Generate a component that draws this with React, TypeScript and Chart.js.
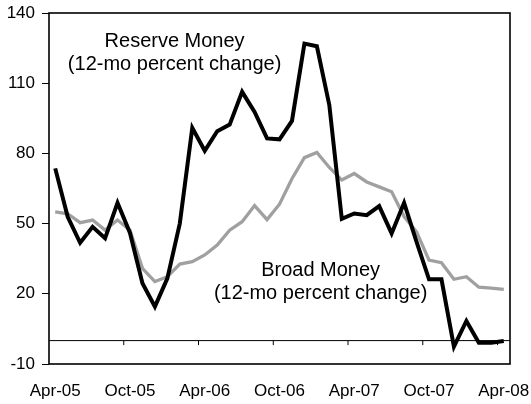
import React, { useEffect, useRef } from "react";
import { Chart, registerables } from "chart.js";

Chart.register(...registerables);

const months = [
  "Apr-05", "May-05", "Jun-05", "Jul-05", "Aug-05", "Sep-05", "Oct-05", "Nov-05", "Dec-05",
  "Jan-06", "Feb-06", "Mar-06", "Apr-06", "May-06", "Jun-06", "Jul-06", "Aug-06", "Sep-06",
  "Oct-06", "Nov-06", "Dec-06", "Jan-07", "Feb-07", "Mar-07", "Apr-07", "May-07", "Jun-07",
  "Jul-07", "Aug-07", "Sep-07", "Oct-07", "Nov-07", "Dec-07", "Jan-08", "Feb-08", "Mar-08",
  "Apr-08",
];

const reserveMoney = [
  73.6, 52.9, 41.8, 48.6, 43.7, 58.9, 46.0, 24.5, 14.5, 26.6, 50.1, 90.9, 81.1, 89.5, 92.3,
  106.3, 97.7, 86.4, 86.0, 93.9, 126.9, 125.8, 100.6, 52.0, 54.3, 53.6, 57.5, 45.8, 58.9,
  42.2, 26.2, 26.2, -2.6, 8.4, -0.9, -0.9, -0.2,
];

const broadMoney = [
  55.0, 54.2, 50.4, 51.5, 47.2, 51.5, 47.2, 30.9, 25.2, 27.3, 32.7, 33.7, 36.6, 40.8, 47.2,
  50.8, 57.7, 51.7, 58.3, 69.2, 78.2, 80.4, 74.0, 68.6, 71.4, 67.8, 65.7, 63.6, 53.0, 46.5,
  34.4, 33.3, 26.2, 27.3, 22.8, 22.4, 21.9,
];

const labelEvery = 6;
const yMin = -10;
const yMax = 140;
const yStep = 30;

const annotations = [
  { lines: ["Reserve Money", "(12-mo percent change)"], x: 9.58, y: 125.4 },
  { lines: ["Broad Money", "(12-mo percent change)"], x: 21.3, y: 27.6 },
];

const FONT = "'Liberation Sans', Arial, sans-serif";

const overlayPlugin = {
  id: "overlay",
  beforeDatasetsDraw(chart: any) {
    const { ctx, chartArea, scales } = chart;
    const xs = scales.x;
    const ys = scales.y;
    const y0 = ys.getPixelForValue(0);
    ctx.save();
    ctx.strokeStyle = "#000";
    ctx.lineWidth = 1;
    ctx.beginPath();
    ctx.moveTo(chartArea.left, y0);
    ctx.lineTo(chartArea.right, y0);
    for (let k = labelEvery; k < months.length; k += labelEvery) {
      const x = (xs.getPixelForValue(k - 1) + xs.getPixelForValue(k)) / 2;
      ctx.moveTo(x, y0);
      ctx.lineTo(x, y0 + 4.5);
    }
    ctx.stroke();
    ctx.restore();
  },
  afterDatasetsDraw(chart: any) {
    const { ctx, chartArea, scales } = chart;
    ctx.save();
    ctx.strokeStyle = "#000";
    ctx.lineWidth = 1.6;
    ctx.strokeRect(
      chartArea.left,
      chartArea.top,
      chartArea.right - chartArea.left,
      chartArea.bottom - chartArea.top
    );
    ctx.fillStyle = "#000";
    ctx.font = `20px ${FONT}`;
    ctx.textAlign = "center";
    ctx.textBaseline = "alphabetic";
    for (const a of annotations) {
      const cx = scales.x.getPixelForValue(a.x);
      const cy = scales.y.getPixelForValue(a.y);
      a.lines.forEach((t, i) => ctx.fillText(t, cx, cy + i * 23));
    }
    ctx.restore();
  },
};

export default function App() {
  const ref = useRef<HTMLCanvasElement | null>(null);

  useEffect(() => {
    document.body.style.margin = "0";
    const canvas = ref.current;
    if (!canvas) return;
    const chart = new Chart(canvas, {
      type: "line",
      data: {
        labels: months,
        datasets: [
          {
            label: "Reserve Money",
            data: reserveMoney,
            borderColor: "#000000",
            borderWidth: 4,
            pointRadius: 0,
            tension: 0,
            borderJoinStyle: "miter",
            fill: false,
          },
          {
            label: "Broad Money",
            data: broadMoney,
            borderColor: "#a0a0a0",
            borderWidth: 3.3,
            pointRadius: 0,
            tension: 0,
            borderJoinStyle: "miter",
            fill: false,
          },
        ],
      },
      options: {
        responsive: false,
        animation: false,
        devicePixelRatio: 1,
        layout: { padding: { top: 13, right: 21, left: 0, bottom: 0 } },
        plugins: {
          legend: { display: false },
          tooltip: { enabled: false },
          title: { display: false },
        },
        scales: {
          x: {
            type: "category",
            offset: true,
            grid: { display: false, drawTicks: false },
            border: { display: false },
            ticks: {
              autoSkip: false,
              maxRotation: 0,
              minRotation: 0,
              padding: 17,
              color: "#000",
              font: { family: FONT, size: 17 },
              callback: (_v: any, i: number) => (i % labelEvery === 0 ? months[i] : ""),
            },
            afterFit: (s: any) => {
              s.height = 40;
              s.paddingLeft = 0;
              s.paddingRight = 0;
            },
          },
          y: {
            min: yMin,
            max: yMax,
            grid: {
              drawOnChartArea: false,
              drawTicks: true,
              tickLength: 7,
              tickColor: "#000",
              tickWidth: 1,
            },
            border: { display: false },
            ticks: {
              stepSize: yStep,
              padding: 7,
              color: "#000",
              font: { family: FONT, size: 17 },
            },
            afterFit: (s: any) => {
              s.width = 49;
              s.paddingTop = 0;
              s.paddingBottom = 0;
            },
          },
        },
      },
      plugins: [overlayPlugin],
    });
    return () => chart.destroy();
  }, []);

  return (
    <div style={{ width: 531, height: 404 }}>
      <canvas ref={ref} width={531} height={404} style={{ width: 531, height: 404, display: "block" }} />
    </div>
  );
}
